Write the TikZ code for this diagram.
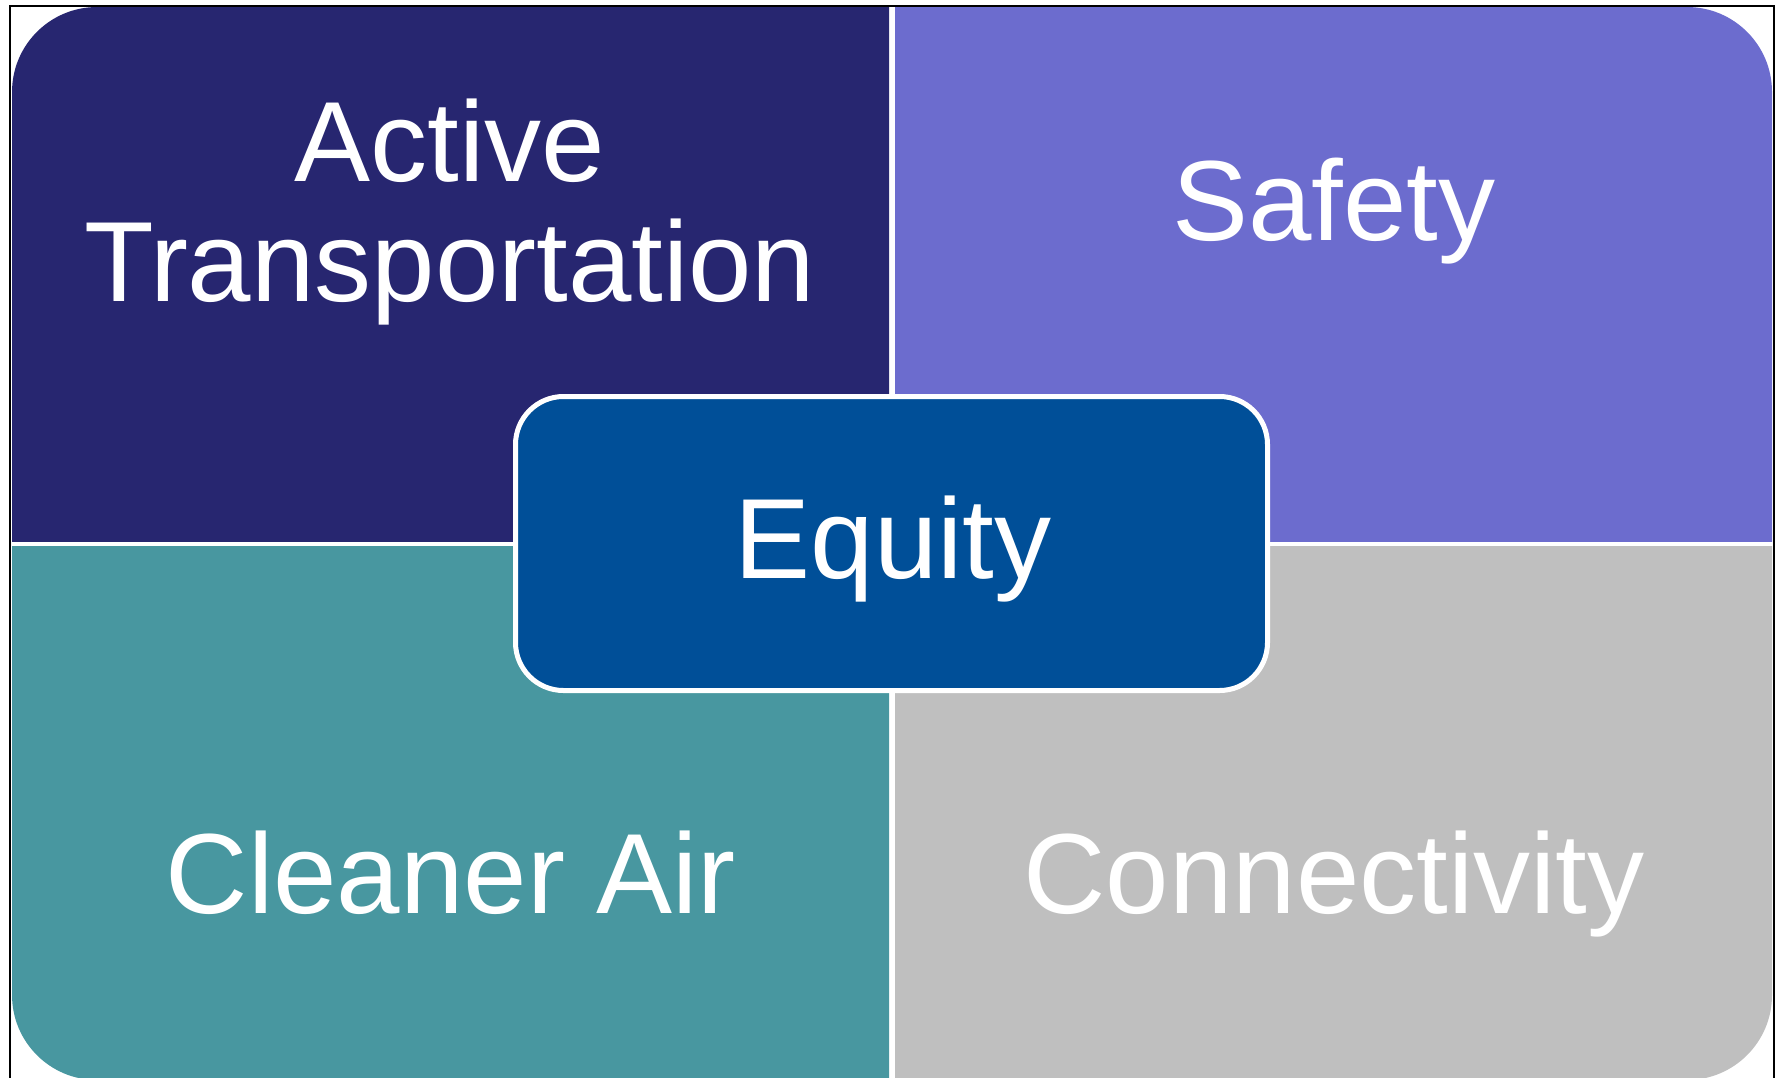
\documentclass[tikz,border=0pt]{standalone}
\usepackage{fontspec}
\setmainfont{Liberation Sans}
\definecolor{navyq}{RGB}{39,38,112}
\definecolor{violetq}{RGB}{108,108,206}
\definecolor{tealq}{RGB}{72,151,160}
\definecolor{greyq}{RGB}{191,191,191}
\definecolor{hubblue}{RGB}{0,79,152}
\tikzset{
  label text/.style={text=white, inner sep=0pt, anchor=base,
    font=\fontsize{114}{120}\selectfont},
}
\begin{document}
\begin{tikzpicture}[x=1pt, y=-1pt]
  \useasboundingbox (0,0) rectangle (1777,1077);
  \clip (0,0) rectangle (1777,1077);

  % outer frame (bottom edge runs off the page)
  \draw[black, line width=2] (9.5,1090) -- (9.5,5.5) -- (1773.5,5.5) -- (1773.5,1090);

  % four quadrants: one big rounded panel, clipped into pieces
  \newcommand{\panelpath}{(12,7) rectangle (1772,1080)}
  \begin{scope}
    \clip (12,7) rectangle (889,541);
    \fill[navyq, rounded corners=85] \panelpath;
  \end{scope}
  \begin{scope}
    \clip (895,7) rectangle (1772,541);
    \fill[violetq, rounded corners=85] \panelpath;
  \end{scope}
  \begin{scope}
    \clip (12,546) rectangle (889,1080);
    \fill[tealq, rounded corners=85] \panelpath;
  \end{scope}
  \begin{scope}
    \clip (895,546) rectangle (1772,1080);
    \fill[greyq, rounded corners=85] \panelpath;
  \end{scope}

  % quadrant labels
  \node[label text] (active) at (450,181) {Active};
  \node[label text] (transport) at (450,301) {Transportation};
  \node[label text] (safety) at (1334,240) {Safety};
  \node[label text] (cleaner) at (451,913) {Cleaner Air};
  \node[label text] (connect) at (1334,913) {Connectivity};

  % central hub
  \draw[fill=hubblue, draw=white, line width=5, rounded corners=48]
    (515.5,396.5) rectangle (1267.5,690.5);
  \node[label text] (equity) at (893,578) {Equity};
\end{tikzpicture}
\end{document}
